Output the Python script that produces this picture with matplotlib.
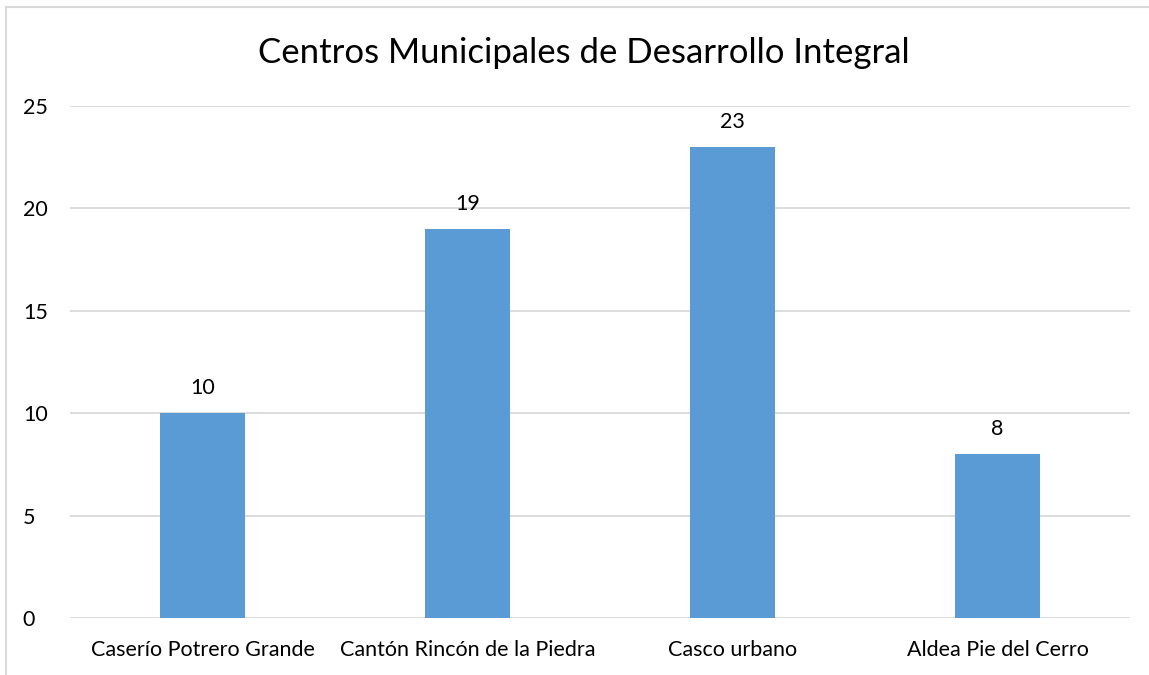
import matplotlib.pyplot as plt
from matplotlib.lines import Line2D

categorias = ["Caserío Potrero Grande", "Cantón Rincón de la Piedra", "Casco urbano", "Aldea Pie del Cerro"]
valores = [10, 19, 23, 8]
titulo = "Centros Municipales de Desarrollo Integral"

plt.rcParams['font.family'] = ['Lato', 'DejaVu Sans']

fig = plt.figure(figsize=(11.49, 6.75), dpi=100)
ax = fig.add_axes([0.061, 0.0844, 0.9225, 0.7586])

x = range(len(categorias))
barras = ax.bar(x, valores, width=0.32, color="#5B9BD5", zorder=3)
for b, v in zip(barras, valores):
    ax.annotate(str(v), (b.get_x() + b.get_width() / 2, v), xytext=(0, 11),
                textcoords="offset points", ha="center", va="bottom", fontsize=15.5, color="#000000")

ax.set_xlim(-0.5, len(categorias) - 0.5)
ax.set_ylim(0, 25)
ax.set_yticks([0, 5, 10, 15, 20, 25])
ax.set_xticks(list(x))
ax.set_xticklabels(categorias)
ax.tick_params(axis="both", length=0, labelsize=15.5, colors="#000000")
ax.tick_params(axis="x", pad=16)
ax.tick_params(axis="y", pad=34)
for lbl in ax.get_yticklabels():
    lbl.set_horizontalalignment("left")
ax.grid(axis="y", color="#D9D9D9", linewidth=1.3, zorder=0)
for s in ax.spines.values():
    s.set_visible(False)

fig.text(0.508, 0.922, titulo, ha="center", va="center", fontsize=25, color="#000000")

# marco del gráfico (solo izquierda y arriba visibles)
fy = 1 - 7 / 675
fx = 6 / 1149
fig.lines.append(Line2D([fx, fx], [0, fy], transform=fig.transFigure, color="#D9D9D9", linewidth=1.5))
fig.lines.append(Line2D([fx, 1], [fy, fy], transform=fig.transFigure, color="#D9D9D9", linewidth=1.5))

fig.savefig("out.png", dpi=100)
